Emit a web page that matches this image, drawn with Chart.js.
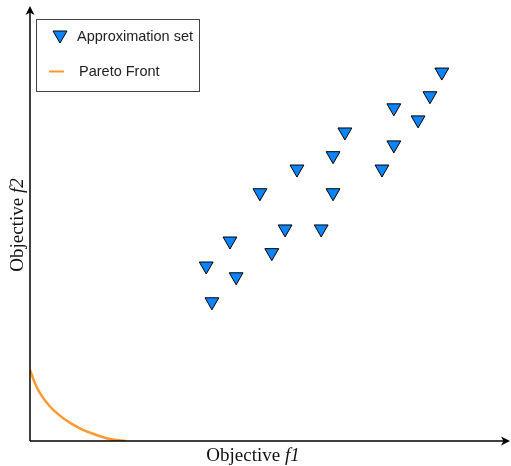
<!DOCTYPE html>
<html><head><meta charset="utf-8">
<script src="https://cdn.jsdelivr.net/npm/chart.js@4/dist/chart.umd.min.js"></script>
<style>html,body{margin:0;padding:0;background:#fff;}#wrap{width:511px;height:466px;}</style>
</head><body><div id="wrap"><canvas id="c" width="511" height="466"></canvas></div>
<script>
// Approximation set (f1, f2) in normalised units 0..100
const approxF1 = [86.7,84.2,76.6,81.7,66.3,76.6,63.8,56.2,74.1,48.4,63.8,53.7,61.3,42.1,50.9,37.1,43.4,38.3];
const approxF2 = [85.6,80.1,77.3,74.5,71.7,68.7,66.2,63.1,63.1,57.6,57.6,49.2,49.2,46.4,43.7,40.6,38.1,32.3];
// Pareto front
const paretoF1 = [0,1.05,2.1,4.2,7.0,10.5,14.0,16.8,20.2];
const paretoF2 = [16.5,13.4,11.1,8.0,5.3,2.95,1.4,0.46,0];
const legendLabels = ['Approximation set','Pareto Front'];
const axisTitles = [['Objective ','f1'],['Objective ','f2']];

const BLUE = '#0a84ff', ORANGE = '#ff9a33';

function arrow(ctx, x, y, ang){
  ctx.save(); ctx.translate(x,y); ctx.rotate(ang);
  ctx.beginPath(); ctx.moveTo(0,0); ctx.lineTo(-9,-4.5); ctx.lineTo(-6.5,0); ctx.lineTo(-9,4.5); ctx.closePath();
  ctx.fillStyle='#000'; ctx.fill(); ctx.restore();
}
function mixedText(ctx, parts, cx, cy){
  const F = '19px "Liberation Serif"', FI = 'italic 19px "Liberation Serif"';
  ctx.font = F;
  const w1 = ctx.measureText(parts[0]).width;
  ctx.font = FI;
  const w2 = ctx.measureText(parts[1]).width;
  let x = cx - (w1+w2)/2;
  ctx.textBaseline='middle'; ctx.textAlign='left'; ctx.fillStyle='#111';
  ctx.font = F; ctx.fillText(parts[0], x, cy);
  ctx.font = FI; ctx.fillText(parts[1], x+w1, cy);
}
const deco = {
  id:'deco',
  afterDraw(chart){
    const ctx = chart.ctx, a = chart.chartArea;
    const x0 = chart.scales.x.getPixelForValue(0), y0 = chart.scales.y.getPixelForValue(0);
    ctx.save();
    ctx.strokeStyle='#000'; ctx.lineWidth=1.5;
    ctx.beginPath(); ctx.moveTo(x0, y0); ctx.lineTo(507, y0); ctx.stroke();
    ctx.beginPath(); ctx.moveTo(x0, y0); ctx.lineTo(x0, 10); ctx.stroke();
    arrow(ctx, 510, y0, 0);
    arrow(ctx, x0, 6, -Math.PI/2);
    // axis titles
    mixedText(ctx, axisTitles[0], 253, 456);
    ctx.save(); ctx.translate(18, 225); ctx.rotate(-Math.PI/2);
    mixedText(ctx, axisTitles[1], 0, 0); ctx.restore();
    // legend
    ctx.fillStyle='#fff'; ctx.fillRect(36.5,19.5,163,72);
    ctx.strokeStyle='#444'; ctx.lineWidth=1; ctx.strokeRect(36.5,19.5,163,72);
    // triangle symbol
    ctx.beginPath(); ctx.moveTo(53,31); ctx.lineTo(67,31); ctx.lineTo(60,43); ctx.closePath();
    ctx.fillStyle=BLUE; ctx.fill(); ctx.strokeStyle='#000'; ctx.lineWidth=1; ctx.stroke();
    ctx.strokeStyle=ORANGE; ctx.lineWidth=2; ctx.beginPath(); ctx.moveTo(49,71.5); ctx.lineTo(64,71.5); ctx.stroke();
    ctx.fillStyle='#222'; ctx.font='14.5px "Liberation Sans"'; ctx.textBaseline='middle'; ctx.textAlign='left';
    ctx.fillText(legendLabels[0], 77, 37);
    ctx.fillText(legendLabels[1], 79, 72);
    ctx.restore();
  }
};

new Chart(document.getElementById('c'), {
  type:'scatter',
  data:{datasets:[
    {label:legendLabels[1], type:'line', data:paretoF1.map((v,i)=>({x:v,y:paretoF2[i]})),
     borderColor:ORANGE, borderWidth:2.5, pointRadius:0, cubicInterpolationMode:'monotone', fill:false, order:2},
    {label:legendLabels[0], data:approxF1.map((v,i)=>({x:v,y:approxF2[i]})),
     pointStyle:'triangle', rotation:180, pointRadius:8, pointHoverRadius:8,
     backgroundColor:BLUE, borderColor:'#000', borderWidth:1, order:1}
  ]},
  options:{
    responsive:false, animation:false, events:[],
    layout:{autoPadding:false, padding:{left:30,top:10,right:6,bottom:25}},
    plugins:{legend:{display:false}, tooltip:{enabled:false}},
    scales:{
      x:{type:'linear', min:0, max:100, display:false},
      y:{type:'linear', min:0, max:100, display:false}
    }
  },
  plugins:[deco]
});
</script></body></html>
